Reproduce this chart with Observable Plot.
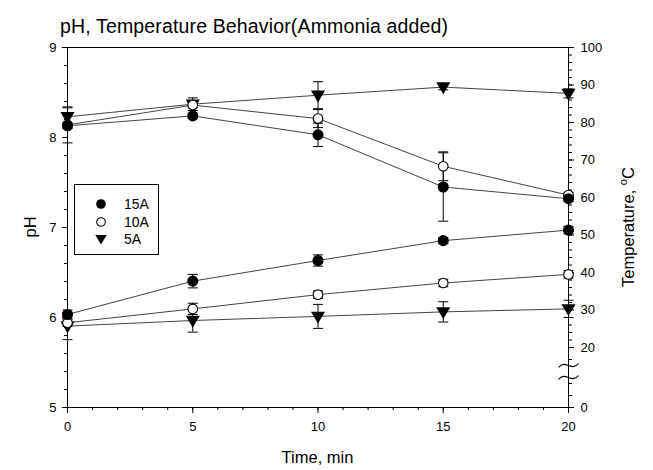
<!DOCTYPE html>
<html><head><meta charset="utf-8">
<script src="https://cdn.jsdelivr.net/npm/d3@7"></script>
<script src="https://cdn.jsdelivr.net/npm/@observablehq/plot@0.6"></script>
<style>
body{margin:0;background:#fff;font-family:"Liberation Sans",Arial,sans-serif;}
#wrap{position:relative;width:653px;height:470px;}
#wrap svg{position:absolute;left:0;top:0;}
#legend{position:absolute;left:74px;top:184px;width:85px;height:71px;border:1px solid #000;box-sizing:border-box;background:#fff;font-size:14px;}
#legend div{position:absolute;left:0;height:18px;line-height:18px;}
#legend svg{position:static;vertical-align:middle;}
</style></head><body>
<div id="wrap"></div>
<script>
// ---------------- data ----------------
const times = [0, 5, 10, 15, 20];
const seriesNames = ["15A", "10A", "5A"];
// pH (left axis)
const pH_15A = [8.13, 8.24, 8.03, 7.45, 7.32];
const pH_10A = [8.14, 8.36, 8.21, 7.68, 7.36];
const pH_5A  = [8.23, 8.37, 8.47, 8.56, 8.49];
const pHerr_15A = [0.03, 0.03, 0.13, 0.38, 0.03];
const pHerr_10A = [0.20, 0.03, 0.10, 0.16, 0.03];
const pHerr_5A  = [0.10, 0.07, 0.15, 0.03, 0.05];
// Temperature (right axis, °C)
const temp_15A = [28.8, 37.7, 43.2, 48.5, 51.3];
const temp_10A = [26.6, 30.3, 34.1, 37.2, 39.5];
const temp_5A  = [25.7, 27.2, 28.3, 29.5, 30.3];
const terr_15A = [1.2, 1.8, 1.5, 0.8, 1.0];
const terr_10A = [1.0, 1.5, 1.0, 1.0, 1.0];
const terr_5A  = [3.6, 3.1, 3.2, 2.7, 2.3];
// ticks
const xTicks = [0, 5, 10, 15, 20];
const xMinor = d3.range(0, 21, 1);
const pHTicks = [5, 6, 7, 8, 9];
const pHMinor = d3.range(50, 91, 2).map(d => d / 10);
const tempTicks = [0, 20, 30, 40, 50, 60, 70, 80, 90, 100];
const tempMinor = [4, 8, 16].concat(d3.range(20, 101, 2));
const breakAt = [12];

// broken temperature axis: 0–20 °C compressed below the break
const BREAK = 20, BELOW = 0.8, U0 = 4; // display unit u: 20..100 linear, 0..20 squeezed
const toU = t => t >= BREAK ? t : U0 + t * BELOW;
const fromU = u => u >= BREAK ? u : (u - U0) / BELOW;

// ---------------- build rows ----------------
function rows(vals, errs, f) {
  const out = [];
  seriesNames.forEach((s, i) => times.forEach((t, j) => {
    const v = vals[i][j], e = errs[i][j];
    out.push({series: s, t, v: f(v), lo: f(v - e), hi: f(v + e)});
  }));
  return out;
}
const pHRows = rows([pH_15A, pH_10A, pH_5A], [pHerr_15A, pHerr_10A, pHerr_5A], d => d);
const tRows = rows([temp_15A, temp_10A, temp_5A], [terr_15A, terr_10A, terr_5A], toU);

const W = 653, H = 470, mT = 47, mR = 85, mB = 63, mL = 67;
const font = {fontFamily: "Liberation Sans, Arial, sans-serif", fontSize: "13px", color: "#000", background: "transparent", overflow: "visible"};

const capSym = {draw(ctx) { ctx.moveTo(-5, 0); ctx.lineTo(5, 0); }};
const triDown = {draw(ctx, size) { const r = Math.sqrt(size / Math.PI); ctx.moveTo(-r * 1.15, -r * 0.8); ctx.lineTo(r * 1.15, -r * 0.8); ctx.lineTo(0, r * 1.15); ctx.closePath(); }};
const breakSym = {draw(ctx) {
  for (const dy of [-6, 6]) {
    ctx.moveTo(-10, dy + 2);
    ctx.bezierCurveTo(-3, dy - 7, 3, dy + 7, 10, dy - 2);
  }
}};

function dataMarks(data) {
  return [
    Plot.line(data, {x: "t", y: "v", z: "series", stroke: "#444", strokeWidth: 1}),
    Plot.ruleX(data, {x: "t", y1: "lo", y2: "hi", stroke: "#000", strokeWidth: 1}),
    Plot.dot(data, {x: "t", y: "hi", symbol: capSym, r: 5, stroke: "#000", strokeWidth: 1}),
    Plot.dot(data, {x: "t", y: "lo", symbol: capSym, r: 5, stroke: "#000", strokeWidth: 1}),
    Plot.dot(data.filter(d => d.series === "5A"), {x: "t", y: "v", symbol: triDown, r: 5, fill: "#000", stroke: "#000"}),
    Plot.dot(data.filter(d => d.series === "10A"), {x: "t", y: "v", r: 4.8, fill: "#fff", stroke: "#000", strokeWidth: 1.1}),
    Plot.dot(data.filter(d => d.series === "15A"), {x: "t", y: "v", r: 4.8, fill: "#000", stroke: "#000"})
  ];
}

const p1 = Plot.plot({
  width: W, height: H, marginTop: mT, marginRight: mR, marginBottom: mB, marginLeft: mL,
  style: font,
  x: {domain: [0, 20]},
  y: {domain: [5, 9]},
  marks: [
    Plot.frame({stroke: "#000"}),
    Plot.axisX({ticks: xMinor, tickSize: 3, tickFormat: () => "", label: null}),
    Plot.axisX({ticks: xTicks, tickSize: 6, tickPadding: 8, tickFormat: d3.format("d"), label: null}),
    Plot.axisY({ticks: pHMinor, tickSize: 3, tickFormat: () => "", label: null}),
    Plot.axisY({ticks: pHTicks, tickSize: 5, tickPadding: 6, tickFormat: d3.format("d"), label: null}),
    ...dataMarks(pHRows)
  ]
});

const p2 = Plot.plot({
  width: W, height: H, marginTop: mT, marginRight: mR, marginBottom: mB, marginLeft: mL,
  style: font,
  x: {domain: [0, 20], axis: null},
  y: {domain: [toU(0), toU(100)]},
  marks: [
    Plot.axisY({anchor: "right", ticks: tempMinor.map(toU), tickSize: 3, tickFormat: () => "", label: null}),
    Plot.axisY({anchor: "right", ticks: tempTicks.map(toU), tickSize: 5, tickPadding: 7, tickFormat: u => d3.format("d")(fromU(u)), label: null}),
    Plot.dot(breakAt, {y: d => toU(d), frameAnchor: "right", symbol: breakSym, r: 5, fill: "none", stroke: "#000", strokeWidth: 1.2}),
    ...dataMarks(tRows)
  ]
});

const wrap = document.getElementById("wrap");
wrap.appendChild(p1);
wrap.appendChild(p2);

const s = d3.select(p2);
const tf = "Liberation Sans, Arial, sans-serif";
s.append("text").attr("x", 60).attr("y", 33).attr("text-anchor", "start").attr("font-size", 19.5).attr("letter-spacing", 0.15).attr("font-family", tf).attr("fill", "#000")
  .text("pH, Temperature Behavior(Ammonia added)");
s.append("text").attr("x", (mL + W - mR) / 2).attr("y", 463).attr("text-anchor", "middle").attr("font-size", 16.5).attr("font-family", tf).attr("fill", "#000")
  .text("Time, min");
s.append("text").attr("transform", `translate(36,${(mT + H - mB) / 2}) rotate(-90)`).attr("text-anchor", "middle").attr("font-size", 16.5).attr("font-family", tf).attr("fill", "#000")
  .text("pH");
const tl = s.append("text").attr("transform", `translate(634,${(mT + H - mB) / 2}) rotate(-90)`).attr("text-anchor", "middle").attr("font-size", 16.5).attr("font-family", tf).attr("fill", "#000");
tl.append("tspan").text("Temperature, ");
tl.append("tspan").attr("dy", -7).attr("font-size", 11).text("o");
tl.append("tspan").attr("dy", 7).text("C");

// legend
const leg = document.createElement("div");
leg.id = "legend";
const legSym = {
  "15A": '<svg width="12" height="12"><circle cx="6" cy="6" r="4.8" fill="#000"/></svg>',
  "10A": '<svg width="12" height="12"><circle cx="6" cy="6" r="4.3" fill="#fff" stroke="#000" stroke-width="1.1"/></svg>',
  "5A": '<svg width="12" height="12"><path d="M0.3,2 L11.7,2 L6,11.5 Z" fill="#000"/></svg>'
};
seriesNames.forEach((n, i) => {
  const row = document.createElement("div");
  row.style.top = (9 + i * 17.5) + "px";
  row.style.left = "20px";
  row.innerHTML = legSym[n] + '<span style="margin-left:17px;vertical-align:middle">' + n + '</span>';
  leg.appendChild(row);
});
wrap.appendChild(leg);
</script>
</body></html>
